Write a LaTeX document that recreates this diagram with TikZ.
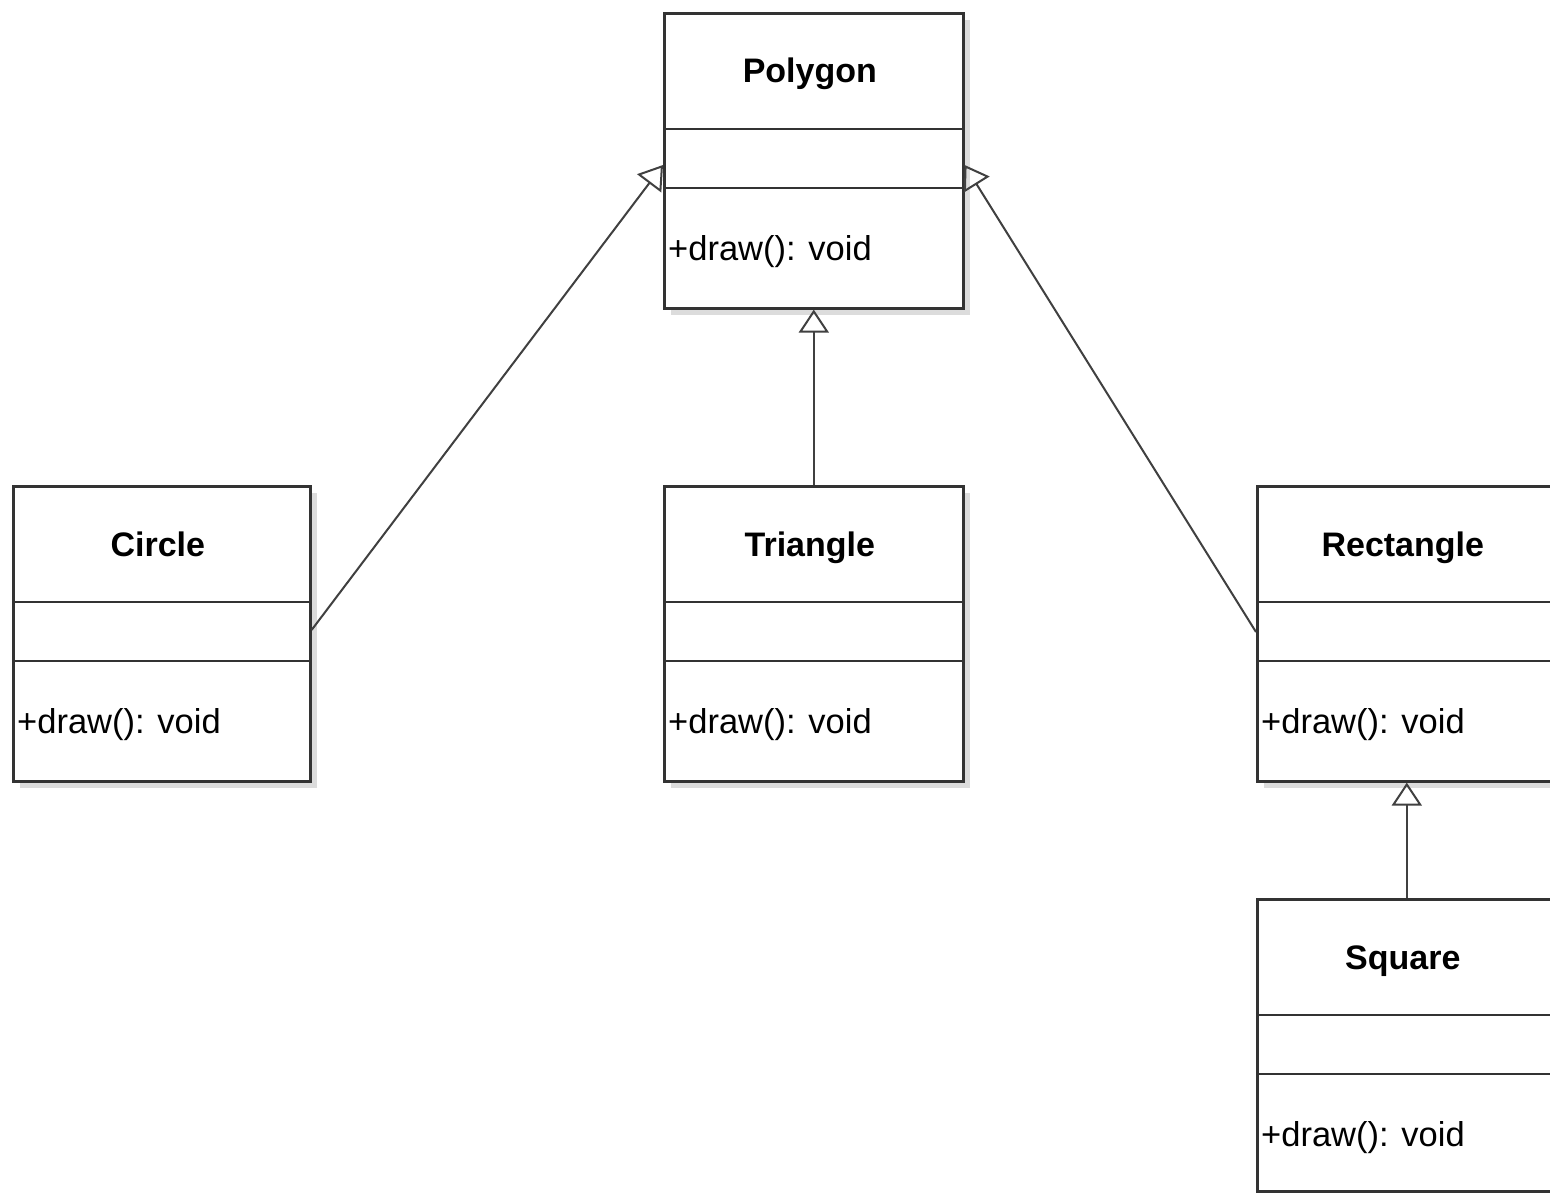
\documentclass[tikz,border=0pt]{standalone}
\usepackage{fontspec}
\setmainfont{Liberation Sans}
\usetikzlibrary{arrows.meta,shadows}
\definecolor{edge}{HTML}{333333}
\definecolor{link}{HTML}{404040}
\definecolor{shade}{HTML}{DCDCDC}
\tikzset{
  classbox/.style={draw=edge, line width=2.6pt, fill=white, anchor=north west,
    minimum width=297pt, minimum height=295pt, inner sep=0pt,
    drop shadow={shadow xshift=7pt, shadow yshift=-7pt, fill=shade, opacity=1}},
  divider/.style={draw=edge, line width=2.6pt},
  title/.style={font=\fontsize{34}{40}\selectfont\bfseries, inner sep=0pt, anchor=base},
  member/.style={font=\fontsize{34.5}{40}\selectfont, inner sep=0pt, anchor=base west},
  inherit/.style={draw=link, line width=2pt,
    -{Triangle[open, length=23pt, width=30pt, line width=2pt]}},
}
% one UML class: extra box options, name, top-left corner, title
\newcommand{\umlclass}[5][]{%
  \node[classbox,#1] (#2) at (#3,#4) {};
  \draw[divider] ([yshift=-117pt]#2.north west) -- ([yshift=-117pt]#2.north east);
  \draw[divider] ([yshift=-176pt]#2.north west) -- ([yshift=-176pt]#2.north east);
  \node[title] (#2-title) at ([xshift=-4pt,yshift=-71pt]#2.north) {#5};
  \node[member] (#2-op) at ([xshift=5pt,yshift=-248pt]#2.north west) {+draw(): void};
}
\begin{document}
\begin{tikzpicture}[x=1pt,y=-1pt]
  \useasboundingbox (0,0) rectangle (1550,1193);
  \fill[white] (0,0) rectangle (1550,1193);

  \umlclass[minimum width=299pt]{polygon}{663}{12}{Polygon}
  \umlclass{circle}{12}{485}{Circle}
  \umlclass[minimum width=299pt]{triangle}{663}{485}{Triangle}
  \umlclass[minimum width=299pt]{rectangle}{1256}{485}{Rectangle}
  \umlclass[minimum width=299pt, minimum height=292pt]{square}{1256}{898}{Square}

  % attachment points on the parent sides
  \coordinate (polyL) at ([yshift=-153pt]polygon.north west);
  \coordinate (polyR) at ([yshift=-153pt]polygon.north east);
  \coordinate (circOut) at ([yshift=-145pt]circle.north east);
  \coordinate (rectIn) at ([yshift=-147pt]rectangle.north west);

  \draw[inherit] (circOut) -- (polyL);
  \draw[inherit] (rectIn) -- (polyR);
  \draw[inherit, line width=2.6pt] (triangle.north) -- (polygon.south);
  \draw[inherit, line width=2.6pt] (square.north) -- (rectangle.south);
\end{tikzpicture}
\end{document}
